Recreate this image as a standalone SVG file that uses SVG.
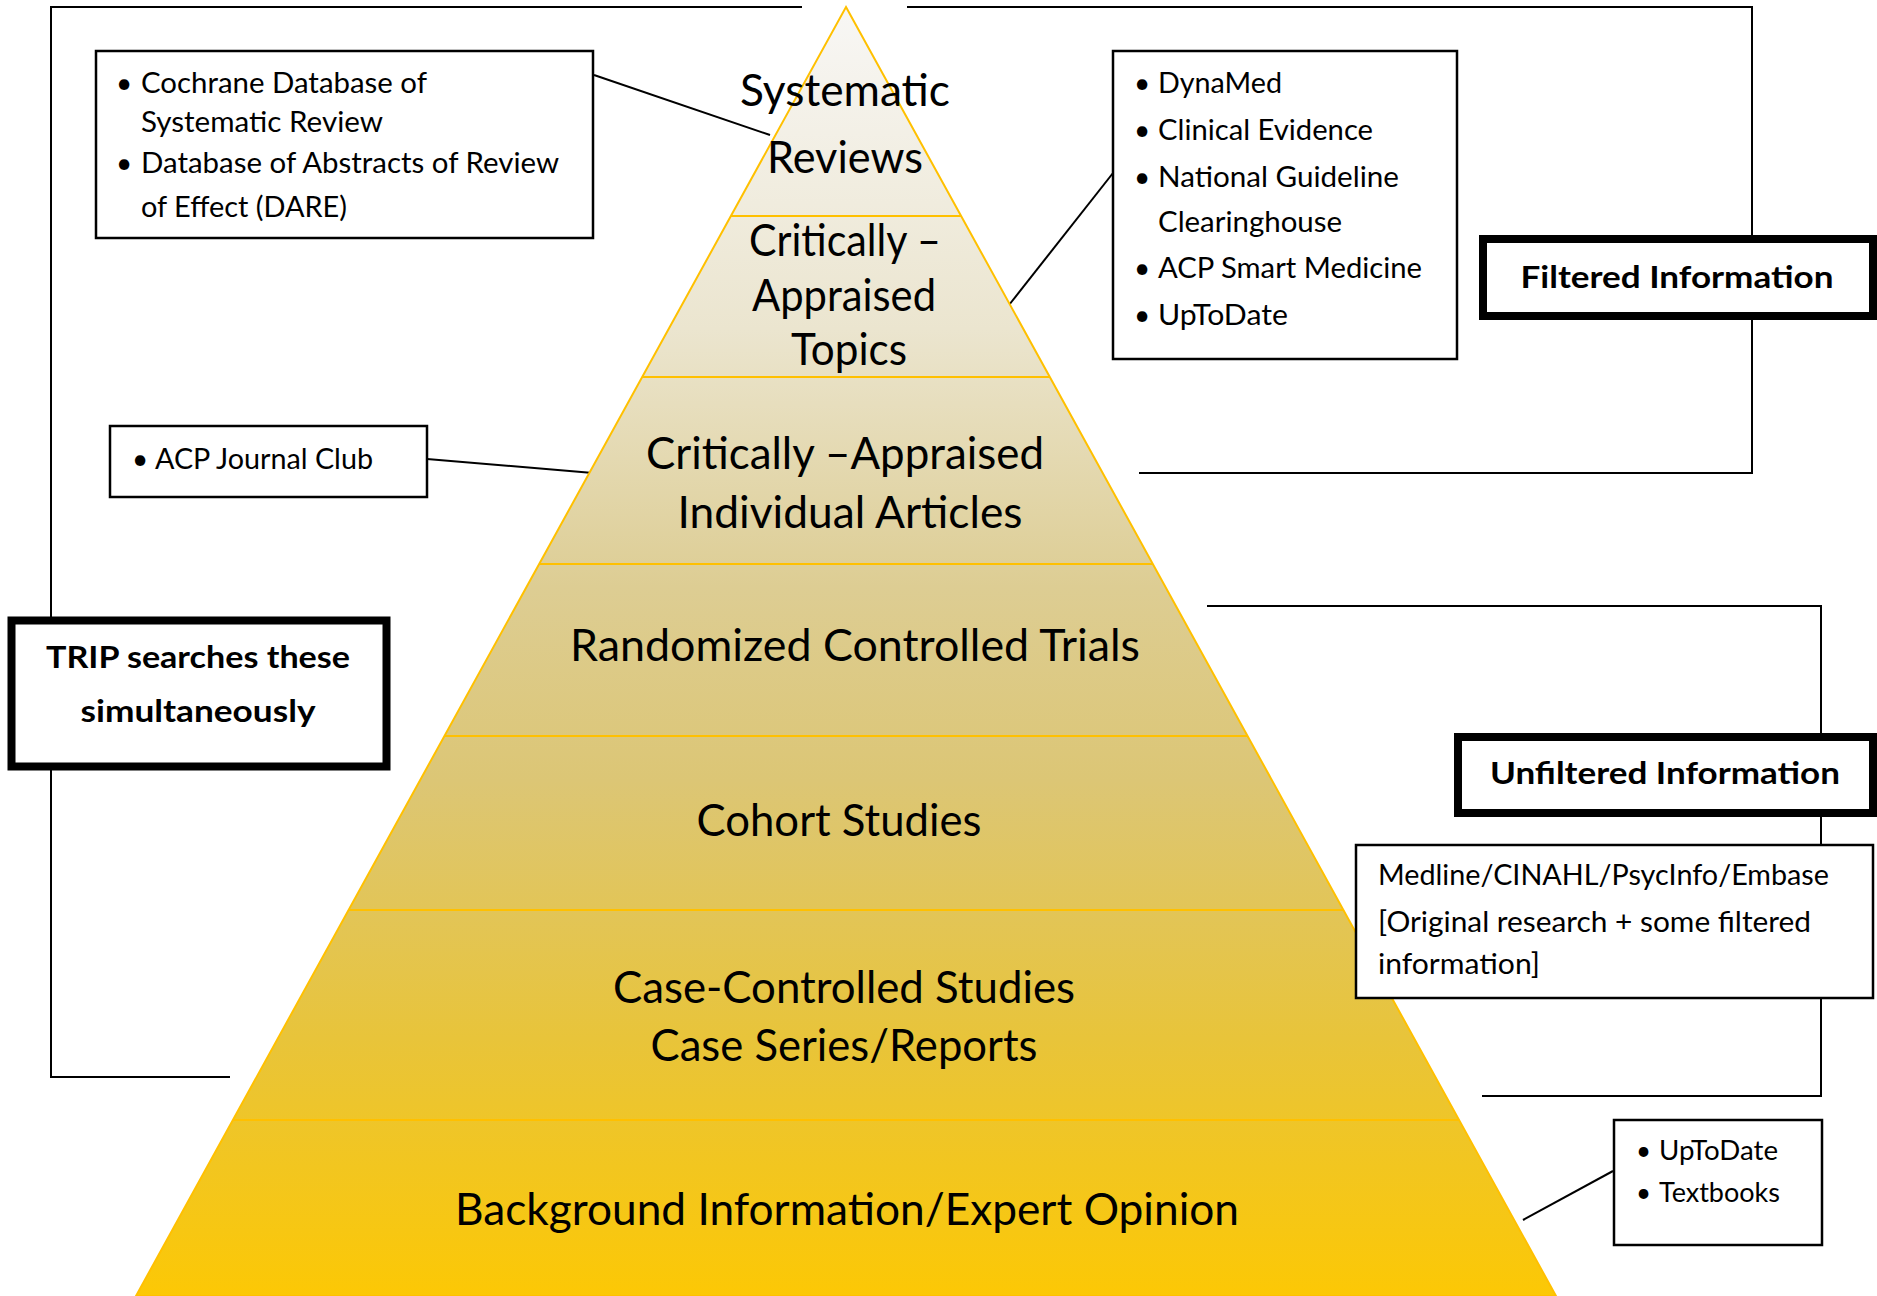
<svg xmlns="http://www.w3.org/2000/svg" width="1877" height="1296" viewBox="0 0 1877 1296">
<style>
.band{font-family:Lato,"Liberation Sans",sans-serif;font-size:44px;fill:#000;text-anchor:middle}
.lbl{font-family:Lato,"Liberation Sans",sans-serif;font-size:28px;fill:#000}
.hd{font-family:Lato,"Liberation Sans",sans-serif;font-size:31px;font-weight:bold;fill:#000;text-anchor:middle}
.box{fill:#fff;stroke:#000;stroke-width:2.5}
.tbox{fill:#fff;stroke:#000;stroke-width:8}
.div{stroke:#FFC000;stroke-width:2}
.con{fill:none;stroke:#000;stroke-width:2}
</style>
<defs>
<linearGradient id="pg" x1="0" y1="7" x2="0" y2="1296" gradientUnits="userSpaceOnUse">
<stop offset="0" stop-color="#f8f7f5"/>
<stop offset="0.25" stop-color="#ebe5cf"/>
<stop offset="0.45" stop-color="#ddcd93"/>
<stop offset="0.6" stop-color="#dcc675"/>
<stop offset="0.8" stop-color="#e8c43a"/>
<stop offset="1" stop-color="#fcc805"/>
</linearGradient>
</defs>
<rect width="1877" height="1296" fill="#fff"/>

<g id="connectors">
<polyline class="con" points="802,7 51,7 51,1077 230,1077"/>
<polyline class="con" points="907,7 1752,7 1752,473 1139,473"/>
<polyline class="con" points="1207,606 1821,606 1821,1096 1482,1096"/>
<line class="con" x1="594" y1="75" x2="770" y2="135"/>
<line class="con" x1="1113" y1="173" x2="1009" y2="305"/>
<line class="con" x1="427" y1="459" x2="593" y2="473"/>
<line class="con" x1="1613" y1="1171" x2="1523" y2="1220"/>
</g>

<g id="pyramid">
<polygon points="846,7 1556,1296 136,1296" fill="url(#pg)" stroke="#FFC000" stroke-width="2"/>
<line class="div" x1="731" y1="216" x2="961" y2="216"/>
<line class="div" x1="642" y1="377" x2="1050" y2="377"/>
<line class="div" x1="539" y1="564" x2="1153" y2="564"/>
<line class="div" x1="444" y1="736" x2="1248" y2="736"/>
<line class="div" x1="349" y1="910" x2="1343" y2="910"/>
<line class="div" x1="233" y1="1120" x2="1459" y2="1120"/>
</g>

<g id="systematic-reviews">
<text class="band" x="845" y="106" textLength="210" lengthAdjust="spacingAndGlyphs">Systematic</text>
<text class="band" x="845" y="173" textLength="156" lengthAdjust="spacingAndGlyphs">Reviews</text>
</g>
<g id="critically-appraised-topics">
<text class="band" x="845" y="256" textLength="192" lengthAdjust="spacingAndGlyphs">Critically –</text>
<text class="band" x="844" y="311" textLength="184" lengthAdjust="spacingAndGlyphs">Appraised</text>
<text class="band" x="849" y="365" textLength="116" lengthAdjust="spacingAndGlyphs">Topics</text>
</g>
<g id="critically-appraised-articles">
<text class="band" x="845" y="469" textLength="398" lengthAdjust="spacingAndGlyphs">Critically –Appraised</text>
<text class="band" x="850" y="528" textLength="345" lengthAdjust="spacingAndGlyphs">Individual Articles</text>
</g>
<g id="rct">
<text class="band" x="855" y="661" textLength="570" lengthAdjust="spacingAndGlyphs">Randomized Controlled Trials</text>
</g>
<g id="cohort">
<text class="band" x="839" y="836" textLength="285" lengthAdjust="spacingAndGlyphs">Cohort Studies</text>
</g>
<g id="case-controlled">
<text class="band" x="844" y="1003" textLength="462" lengthAdjust="spacingAndGlyphs">Case-Controlled Studies</text>
<text class="band" x="844" y="1061" textLength="387" lengthAdjust="spacingAndGlyphs">Case Series/Reports</text>
</g>
<g id="background">
<text class="band" x="847" y="1225" textLength="784" lengthAdjust="spacingAndGlyphs">Background Information/Expert Opinion</text>
</g>

<g id="cochrane-box">
<rect class="box" x="96" y="51" width="497" height="187"/>
<text class="lbl" x="116" y="93">•</text>
<text class="lbl" x="141" y="93" textLength="286" lengthAdjust="spacingAndGlyphs">Cochrane Database of</text>
<text class="lbl" x="141" y="132" textLength="242" lengthAdjust="spacingAndGlyphs">Systematic Review</text>
<text class="lbl" x="116" y="173">•</text>
<text class="lbl" x="141" y="173" textLength="418" lengthAdjust="spacingAndGlyphs">Database of Abstracts of Review</text>
<text class="lbl" x="141" y="217" textLength="206" lengthAdjust="spacingAndGlyphs">of Effect (DARE)</text>
</g>

<g id="dynamed-box">
<rect class="box" x="1113" y="51" width="344" height="308"/>
<text class="lbl" x="1134" y="93">•</text>
<text class="lbl" x="1158" y="93" textLength="124" lengthAdjust="spacingAndGlyphs">DynaMed</text>
<text class="lbl" x="1134" y="140">•</text>
<text class="lbl" x="1158" y="140" textLength="215" lengthAdjust="spacingAndGlyphs">Clinical Evidence</text>
<text class="lbl" x="1134" y="187">•</text>
<text class="lbl" x="1158" y="187" textLength="241" lengthAdjust="spacingAndGlyphs">National Guideline</text>
<text class="lbl" x="1158" y="232" textLength="184" lengthAdjust="spacingAndGlyphs">Clearinghouse</text>
<text class="lbl" x="1134" y="278">•</text>
<text class="lbl" x="1158" y="278" textLength="264" lengthAdjust="spacingAndGlyphs">ACP Smart Medicine</text>
<text class="lbl" x="1134" y="325">•</text>
<text class="lbl" x="1158" y="325" textLength="130" lengthAdjust="spacingAndGlyphs">UpToDate</text>
</g>

<g id="acp-box">
<rect class="box" x="110" y="426" width="317" height="71"/>
<text class="lbl" x="132" y="469">•</text>
<text class="lbl" x="155" y="469" textLength="218" lengthAdjust="spacingAndGlyphs">ACP Journal Club</text>
</g>

<g id="trip-box">
<rect class="tbox" x="11.5" y="620.5" width="375" height="146" stroke-width="7"/>
<text class="hd" x="198" y="668" textLength="304" lengthAdjust="spacingAndGlyphs">TRIP searches these</text>
<text class="hd" x="198" y="722" textLength="235" lengthAdjust="spacingAndGlyphs">simultaneously</text>
</g>

<g id="filtered-box">
<rect class="tbox" x="1483" y="239" width="390" height="77"/>
<text class="hd" x="1677" y="288" textLength="313" lengthAdjust="spacingAndGlyphs">Filtered Information</text>
</g>

<g id="unfiltered-box">
<rect class="tbox" x="1458" y="737" width="415" height="76"/>
<text class="hd" x="1665" y="784" textLength="350" lengthAdjust="spacingAndGlyphs">Unfiltered Information</text>
</g>

<g id="medline-box">
<rect class="box" x="1356" y="845" width="517" height="153"/>
<text class="lbl" x="1378" y="885" textLength="451" lengthAdjust="spacingAndGlyphs">Medline/CINAHL/PsycInfo/Embase</text>
<text class="lbl" x="1378" y="932" textLength="433" lengthAdjust="spacingAndGlyphs">[Original research + some filtered</text>
<text class="lbl" x="1378" y="974" textLength="162" lengthAdjust="spacingAndGlyphs">information]</text>
</g>

<g id="uptodate-box">
<rect class="box" x="1614" y="1120" width="208" height="125"/>
<text class="lbl" x="1636" y="1160" style="font-size:26px">•</text>
<text class="lbl" x="1659" y="1160" style="font-size:26px" textLength="119" lengthAdjust="spacingAndGlyphs">UpToDate</text>
<text class="lbl" x="1636" y="1202" style="font-size:26px">•</text>
<text class="lbl" x="1659" y="1202" style="font-size:26px" textLength="121" lengthAdjust="spacingAndGlyphs">Textbooks</text>
</g>
</svg>
